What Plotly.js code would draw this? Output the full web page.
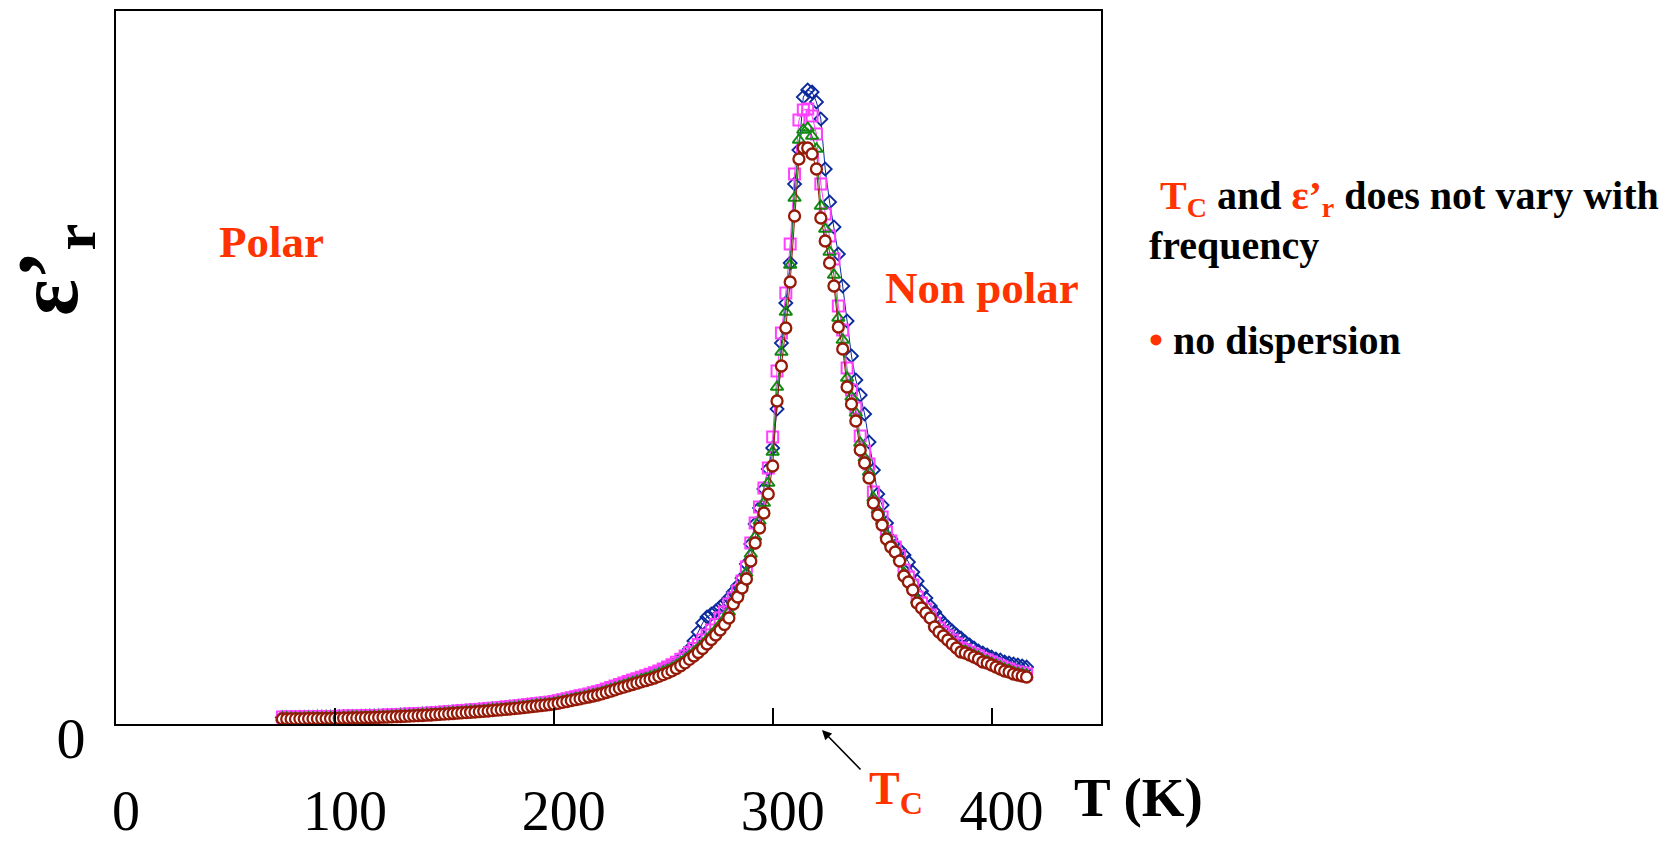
<!DOCTYPE html>
<html>
<head>
<meta charset="utf-8">
<script src="https://cdn.plot.ly/plotly-3.0.1.min.js"></script>
<style>html,body{margin:0;padding:0;background:#fff;}#chart{width:1676px;height:845px;}</style>
</head>
<body>
<div id="chart"></div>
<script>
// Temperature (K)
const temperature = [76,78,80,82,84,86,88,90,92,94, 96,98,100,102,104,106,108,110,112,114, 116,118,120,122,124,126,128,130,132,134, 136,138,140,142,144,146,148,150,152,154, 156,158,160,162,164,166,168,170,172,174, 176,178,180,182,184,186,188,190,192,194, 196,198,200,202,204,206,208,210,212,214, 216,218,220,222,224,226,228,230,232,234, 236,238,240,242,244,246,248,250,252,254, 256,258,260,262,264,266,268,270,272,274, 276,278,280,282,284,286,288,290,292,294, 296,298,300,302,304,306,308,310,312,314, 316,318,320,322,324,326,328,330,332,334, 336,338,340,342,344,346,348,350,352,354, 356,358,360,362,364,366,368,370,372,374, 376,378,380,382,384,386,388,390,392,394, 396,398,400,402,404,406,408,410,412,414,416];

// epsilon'_r, series 1 (blue diamonds)
const epsBlue = [65,65,66,66,67,67,68,68,69,69, 70,70,71,72,73,74,75,76,77,78, 79,80,81,83,84,86,88,90,92,94, 96,98,100,103,105,108,111,114,117,121, 124,127,131,134,137,141,145,148,152,156, 160,164,169,173,177,182,187,192,197,202, 208,213,219,228,238,248,258,268,277,286, 296,307,318,331,345,359,374,389,404,419, 434,448,463,477,492,508,526,546,566,587, 610,650,690,750,830,920,1010,1070,1100,1130, 1170,1210,1260,1320,1380,1460,1600,1800,2000,2160, 2350,2550,2760,3150,3810,4210,4610,5400,5740,6270, 6340,6320,6220,6050,5550,5220,4970,4700,4380,4030, 3680,3440,3290,3100,2820,2540,2300,2190,2010,1850, 1780,1740,1690,1620,1520,1430,1330,1260,1180,1120, 1060,1010,970,930,890,860,820,790,760,730, 710,690,670,650,640,620,610,600,590,580,570];

// series 2 (magenta squares)
const epsMagenta = [70,70,71,71,72,72,73,73,74,74, 75,75,76,77,78,79,80,81,82,83, 84,85,86,88,89,91,93,95,97,99, 101,103,105,108,110,113,116,119,122,126, 129,132,136,139,142,146,150,153,157,161, 165,169,174,178,182,187,192,197,202,207, 213,218,224,233,243,253,263,273,282,291, 301,312,323,336,350,364,379,394,409,424, 439,453,468,482,497,513,531,551,571,592, 618,648,680,716,755,795,840,890,940,995, 1060,1120,1200,1260,1330,1430,1570,1810,2010,2170, 2360,2560,2870,3530,3910,4310,4800,5500,6040,6140, 6150,6080,5900,5400,5100,4880,4650,4180,3940,3560, 3340,3160,2880,2730,2600,2320,2190,2070,1920,1830, 1770,1680,1540,1470,1390,1270,1210,1150,1090,1010, 960,920,880,840,800,760,740,720,700,680, 650,640,620,600,580,560,550,530,520,510,500];

// series 3 (green triangles)
const epsGreen = [60,60,61,61,62,62,63,63,64,64, 65,65,66,67,68,69,70,71,72,73, 74,75,76,78,79,81,83,85,87,89, 91,93,95,98,100,103,106,109,112,115, 118,121,125,128,131,134,138,141,145,149, 153,157,162,166,170,175,180,185,190,195, 200,205,211,220,229,239,248,258,267,276, 285,296,306,319,332,346,360,375,389,403, 417,431,445,458,472,487,504,523,542,562, 587,616,646,681,718,755,797,845,893,940, 995,1050,1120,1230,1310,1400,1510,1700,1870,2030, 2210,2410,2720,3370,3720,4120,4590,5260,5840,5940, 5960,5880,5750,5180,4950,4720,4490,4060,3840,3460, 3270,3110,2810,2660,2520,2260,2140,2030,1890,1810, 1750,1660,1510,1450,1370,1240,1190,1140,1080,1000, 940,900,860,820,780,740,730,710,690,670, 640,630,610,590,570,550,540,520,510,500,490];

// series 4 (dark red circles)
const epsRed = [50,50,51,51,52,52,53,53,54,54, 55,55,56,57,58,59,60,61,62,63, 64,65,66,68,69,71,73,75,77,79, 81,83,85,88,90,93,96,99,102,105, 108,111,114,117,120,123,127,130,134,138, 142,146,150,154,158,163,168,173,178,183, 188,193,199,207,216,225,234,243,252,261, 270,280,290,302,315,328,342,356,369,382, 395,408,421,433,446,460,476,494,512,531, 555,583,612,646,680,715,755,800,845,890, 940,995,1060,1200,1270,1360,1450,1630,1810,1960, 2110,2300,2580,3230,3580,3960,4420,5080,5650,5760, 5760,5700,5550,5060,4830,4610,4380,3970,3750,3370, 3200,3030,2740,2610,2460,2210,2090,1990,1850,1770, 1720,1630,1480,1420,1340,1210,1160,1110,1060,970, 920,880,840,800,760,720,710,690,670,650, 620,610,590,570,550,530,520,500,490,480,470];

const xTickVals = [0, 100, 200, 300, 400];
const xTickText = ['0', '100', '200', '300', '400'];
const yTickVals = [0];
const yTickText = ['0'];

const SERIF = 'Liberation Serif, Times New Roman, serif';
const RED = '#ff3300';

function series(y, color, symbol, size, lw, fill) {
  return {
    x: temperature, y: y, type: 'scatter', mode: 'lines+markers',
    line: {color: color, width: 1},
    marker: {symbol: symbol, size: size, color: fill || color, line: {color: color, width: lw}},
    hoverinfo: 'skip'
  };
}

const data = [
  series(epsBlue, '#0c2a9c', 'diamond-open', 10, 1.8),
  series(epsMagenta, '#ff40ff', 'square-open', 11, 2),
  series(epsGreen, '#128a12', 'triangle-up-open', 11, 2),
  series(epsRed, '#951a08', 'circle', 11, 2.3, '#ffffff')
];

const L = 116, R = 1101, TOP = 11, BOT = 724;
function px(x) { return (x - L) / (R - L); }
function py(y) { return (BOT - y) / (BOT - TOP); }

const layout = {
  width: 1676, height: 845,
  margin: {l: L, r: 1676 - R, t: TOP, b: 845 - BOT, pad: 0},
  paper_bgcolor: '#ffffff', plot_bgcolor: '#ffffff',
  showlegend: false,
  font: {family: SERIF, color: '#000'},
  xaxis: {
    range: [0, 450], showgrid: false, zeroline: false,
    showline: true, mirror: true, linecolor: '#000', linewidth: 2,
    ticks: 'inside', ticklen: 16, tickwidth: 2, tickcolor: '#000',
    tickmode: 'array', tickvals: xTickVals, ticktext: xTickText,
    tickfont: {family: SERIF, size: 56, color: '#000'},
    ticklabelstandoff: 37, ticklabelshift: 10
  },
  yaxis: {
    range: [0, 7130], showgrid: false, zeroline: false,
    showline: true, mirror: true, linecolor: '#000', linewidth: 2,
    ticks: '', tickmode: 'array', tickvals: yTickVals, ticktext: yTickText,
    tickfont: {family: SERIF, size: 58, color: '#000'},
    ticklabelstandoff: 17, ticklabelshift: 14
  },
  annotations: [
    {xref: 'paper', yref: 'paper', x: px(271), y: py(242), text: '<b>Polar</b>', showarrow: false,
     font: {family: SERIF, size: 45, color: RED}, xanchor: 'center', yanchor: 'middle'},
    {xref: 'paper', yref: 'paper', x: px(982), y: py(288), text: '<b>Non polar</b>', showarrow: false,
     font: {family: SERIF, size: 45, color: RED}, xanchor: 'center', yanchor: 'middle'},
    {xref: 'paper', yref: 'paper', x: px(1158), y: py(198), showarrow: false, xanchor: 'left', yanchor: 'middle',
     text: '<b><span style="color:' + RED + '">T<sub>C</sub></span> and <span style="color:' + RED + '">ε’<sub>r</sub></span> does not vary with</b>',
     font: {family: SERIF, size: 40, color: '#000'}},
    {xref: 'paper', yref: 'paper', x: px(1147), y: py(245), showarrow: false, xanchor: 'left', yanchor: 'middle',
     text: '<b>frequency</b>', font: {family: SERIF, size: 40, color: '#000'}},
    {xref: 'paper', yref: 'paper', x: px(1147), y: py(340), showarrow: false, xanchor: 'left', yanchor: 'middle',
     text: '<b><span style="color:' + RED + '">•</span> no dispersion</b>', font: {family: SERIF, size: 40, color: '#000'}},
    {xref: 'paper', yref: 'paper', x: px(1138), y: py(797), showarrow: false, xanchor: 'center', yanchor: 'middle',
     text: '<b>T (K)</b>', font: {family: SERIF, size: 55, color: '#000'}},
    {xref: 'paper', yref: 'paper', x: px(867), y: py(792), showarrow: false, xanchor: 'left', yanchor: 'middle',
     text: '<b>T<sub>C</sub></b>', font: {family: SERIF, size: 46, color: RED}},
    {xref: 'paper', yref: 'paper', x: px(822), y: py(730), text: '', showarrow: true,
     ax: 40, ay: 41, arrowhead: 2, arrowsize: 1.2, arrowwidth: 1.6, arrowcolor: '#000'},
    {xref: 'paper', yref: 'paper', x: px(54), y: py(270), showarrow: false, textangle: -90,
     xanchor: 'center', yanchor: 'middle',
     text: '<b>ε’<sub>r</sub></b>', font: {family: SERIF, size: 86, color: '#000'}}
  ]
};

Plotly.newPlot('chart', data, layout, {displayModeBar: false, staticPlot: true});
</script>
</body>
</html>
